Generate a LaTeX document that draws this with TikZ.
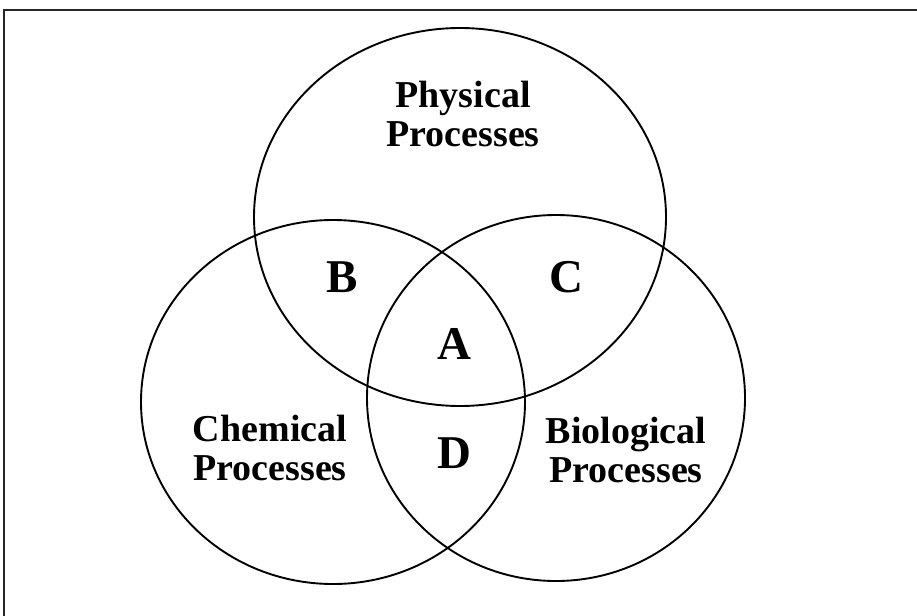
\documentclass[tikz,border=0pt]{standalone}
\usepackage{fontspec}
\setmainfont{Liberation Serif}
\usetikzlibrary{shapes.geometric}
\begin{document}
\begin{tikzpicture}[x=1pt,y=-1pt,
  setring/.style={draw=black, line width=1.9pt, ellipse, inner sep=0pt},
  lbl/.style={font=\fontsize{38}{39}\selectfont\bfseries, align=center, inner sep=0pt},
  zone/.style={font=\fontsize{47}{47}\selectfont\bfseries, inner sep=0pt},
  frameline/.style={draw=black!85, line width=1.8pt}]
\useasboundingbox (0,0) rectangle (917,615);
% frame (only top and left edges visible)
\coordinate (fTL) at (4,10);
\coordinate (fTR) at (920,10);
\coordinate (fBL) at (4,620);
\draw[frameline] (fTR) -- (fTL) -- (fBL);
% circles
\node[setring, minimum width=412pt, minimum height=378pt] (phys) at (460,217) {};
\node[setring, minimum width=384pt, minimum height=364pt] (chem) at (333,402) {};
\node[setring, minimum width=378pt, minimum height=366pt] (bio) at (556,398) {};
% labels
\node[lbl] (tphys) at (463,114) {Physical\\Processes};
\node[lbl] (tchem) at (270,448) {Chemical\\Processes};
\node[lbl] (tbio) at (626,450) {Biological\\Processes};
% regions
\node[zone] (zB) at (342,277) {B};
\node[zone] (zC) at (566,277) {C};
\node[zone] (zA) at (454,344) {A};
\node[zone] (zD) at (454,453) {D};
\end{tikzpicture}
\end{document}
